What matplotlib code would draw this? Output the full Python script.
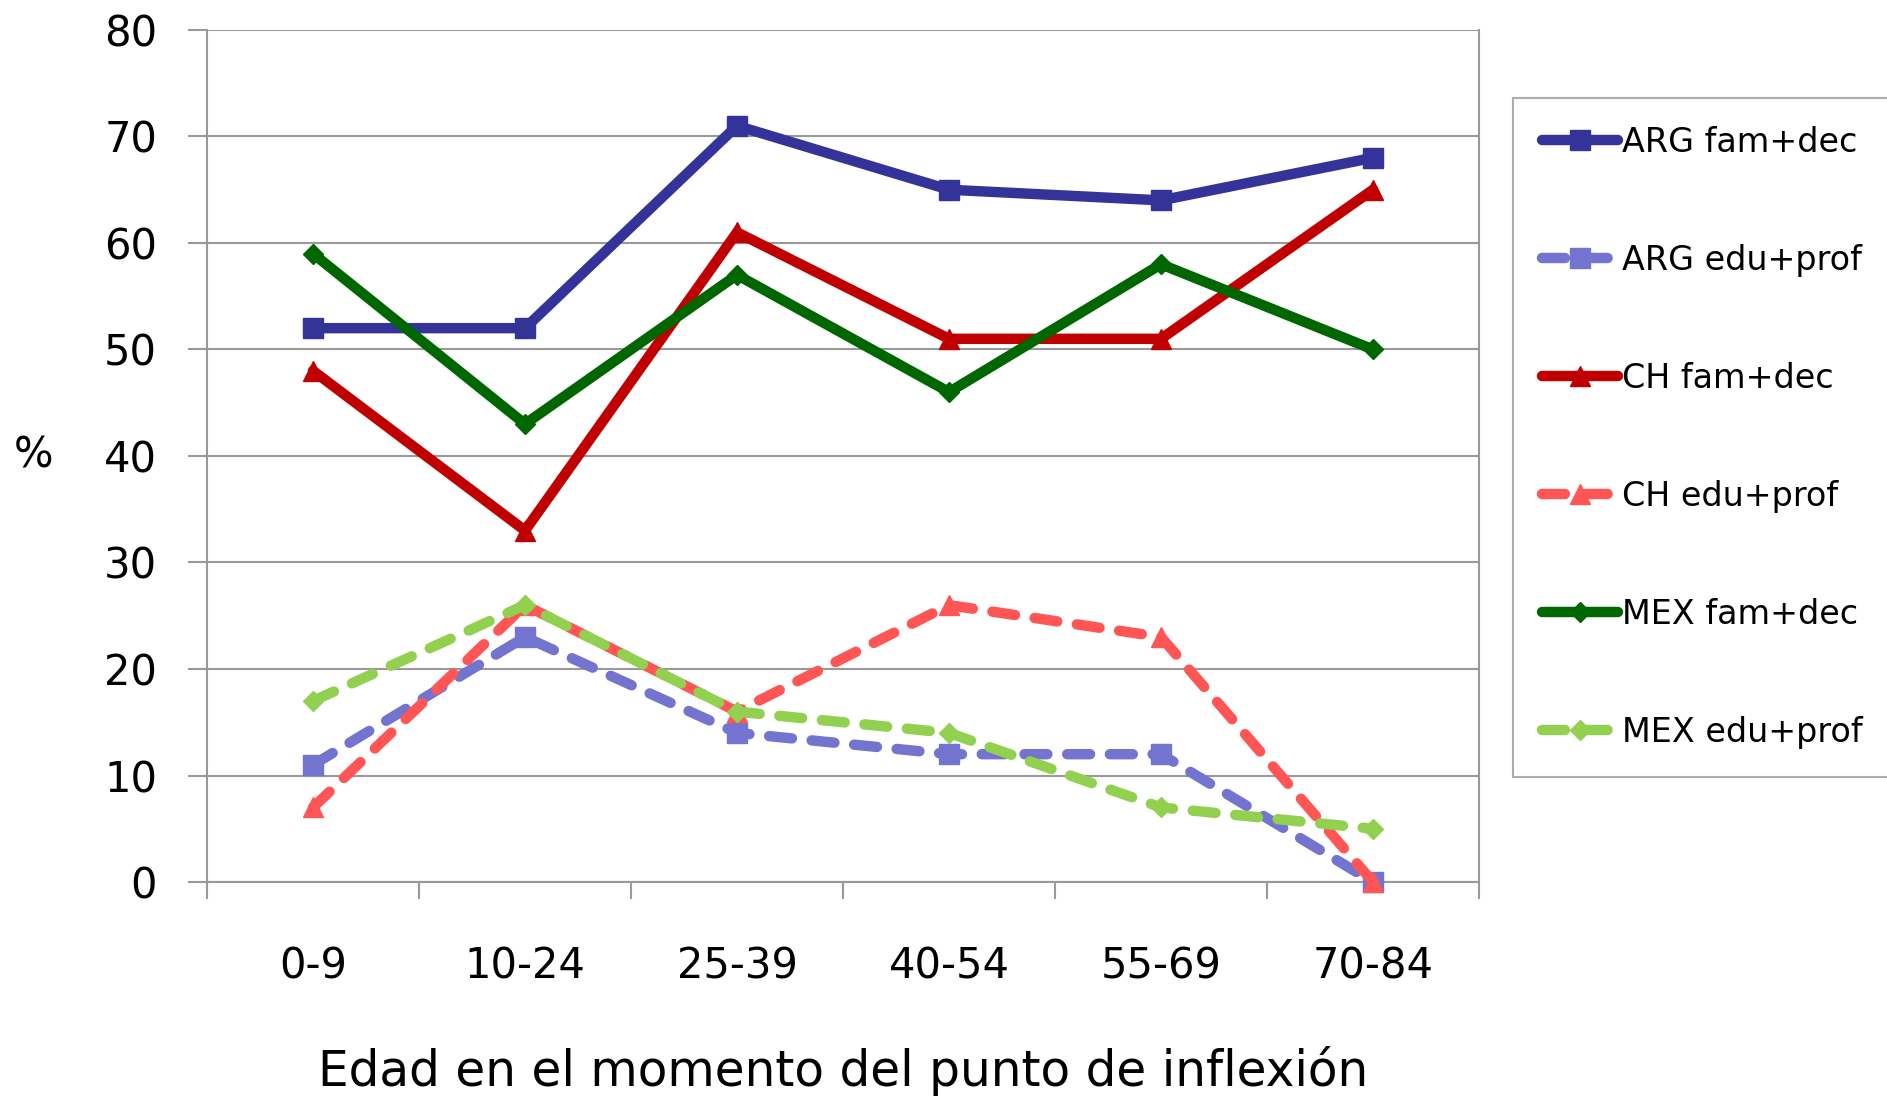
import matplotlib.pyplot as plt
import numpy as np

categories = ['0-9', '10-24', '25-39', '40-54', '55-69', '70-84']
arg_fam = [52, 52, 71, 65, 64, 68]
arg_edu = [11, 23, 14, 12, 12, 0]
ch_fam = [48, 33, 61, 51, 51, 65]
ch_edu = [7, 26, 16, 26, 23, 0]
mex_fam = [59, 43, 57, 46, 58, 50]
mex_edu = [17, 26, 16, 14, 7, 5]
labels = ['ARG fam+dec', 'ARG edu+prof', 'CH fam+dec', 'CH edu+prof',
          'MEX fam+dec', 'MEX edu+prof']


def main():
    fig = plt.figure(figsize=(18.87, 11.05), dpi=100)
    ax = fig.add_axes([0.1097, 0.2018, 0.6741, 0.7711])

    x = np.arange(len(categories))
    series = [arg_fam, arg_edu, ch_fam, ch_edu, mex_fam, mex_edu]
    colors = ['#333399', '#7373D0', '#C00000', '#FF5555', '#006600', '#92D050']
    markers = ['s', 's', '^', '^', 'D', 'D']
    msizes = [14, 14, 14, 14, 10, 10]
    dashed = [False, True, False, True, False, True]

    lines = []
    for s, c, m, ms, d, lab in zip(series, colors, markers, msizes, dashed, labels):
        ln, = ax.plot(x, s, color=c, marker=m, markersize=ms, lw=7.5,
                      label=lab, solid_capstyle='round', dash_capstyle='round',
                      solid_joinstyle='miter', clip_on=False, zorder=3)
        if d:
            ln.set_dashes((2.2, 1.9))
        lines.append(ln)

    ax.set_xlim(-0.5, len(categories) - 0.5)
    ax.set_ylim(0, 80)
    ax.set_yticks(np.arange(0, 81, 10))
    ax.set_xticks(x)
    ax.set_xticklabels(categories)
    ax.set_xticks(np.arange(-0.5, len(categories)), minor=True)

    ax.grid(axis='y', color='#999999', lw=1.5)
    ax.set_axisbelow(True)
    for sp in ax.spines.values():
        sp.set_color('#999999')
        sp.set_linewidth(1.5)
    ax.spines['top'].set_visible(False)

    ax.tick_params(axis='y', length=14, width=1.5, color='#999999',
                   labelsize=30, pad=22)
    ax.tick_params(axis='x', which='major', length=0, labelsize=30, pad=46)
    ax.tick_params(axis='x', which='minor', length=12, width=1.5,
                   color='#999999')

    fig.text(0.018, 0.588, '%', fontsize=30, ha='center', va='center')
    fig.text(0.4467, 0.031, 'Edad en el momento del punto de inflexión',
             fontsize=35, ha='center', va='center')

    leg = fig.legend(handles=lines, loc='center left',
                     bbox_to_anchor=(0.802, 0.604), fontsize=24,
                     handlelength=2.3, handletextpad=0.1, labelspacing=2.55,
                     borderpad=0.85, fancybox=False, frameon=True,
                     borderaxespad=0)
    leg.get_frame().set_edgecolor('#999999')
    leg.get_frame().set_linewidth(1.5)

    plt.savefig('out.png')


if __name__ == "__main__":
    main()
